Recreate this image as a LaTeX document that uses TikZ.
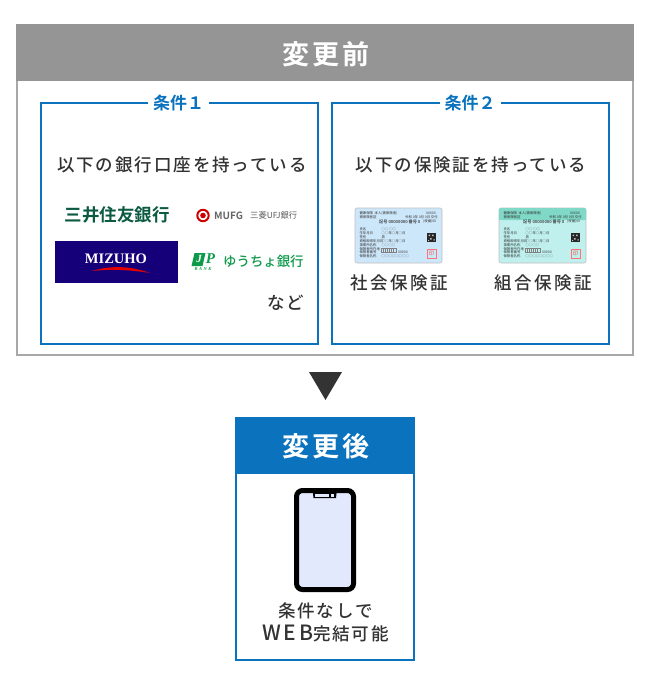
\documentclass[tikz,border=0pt]{standalone}
\usepackage{fontspec}
\setmainfont{Noto Sans CJK JP}
\newfontfamily\jpbold{Noto Sans CJK JP Bold}
\newfontfamily\jpmed{Noto Sans CJK JP Medium}
\newfontfamily\jphead[LetterSpace=11]{Noto Sans CJK JP Bold}
\newfontfamily\jptrack[LetterSpace=11]{Noto Sans CJK JP Medium}
\newfontfamily\jpwide[LetterSpace=15]{Noto Sans CJK JP Medium}
\newfontfamily\jpxwide[LetterSpace=13]{Noto Sans CJK JP Medium}
\newfontfamily\latinb{Liberation Serif}
\definecolor{headgray}{HTML}{959595}
\definecolor{boxgray}{HTML}{A8A8A8}
\definecolor{blueA}{HTML}{0B72BD}
\definecolor{ink}{HTML}{333333}
\definecolor{mitsui}{HTML}{0B5A41}
\definecolor{jpgreen}{HTML}{0E9A4B}
\definecolor{mizuho}{HTML}{15007A}
\definecolor{cardblue}{HTML}{CDE7FA}
\definecolor{cardteal}{HTML}{BFF0EE}
\definecolor{tealhead}{HTML}{80D8C6}
\definecolor{screen}{HTML}{E2E9FD}
\tikzset{
 head/.style={font=\fontsize{27}{27}\selectfont\jphead,text=white,inner sep=0},
 jp/.style={font=\fontsize{17.5}{17.5}\selectfont\jptrack,text=ink,inner sep=0},
 jpw/.style={font=\fontsize{17.5}{17.5}\selectfont\jpwide,text=ink,inner sep=0},
 bluebox/.style={draw=blueA,line width=2pt,fill=white,outer sep=0,inner sep=0,anchor=north west},
 legend/.style={font=\fontsize{17}{17}\selectfont\jpbold,text=blueA,fill=white,inner xsep=5pt,inner ysep=1pt},
 tiny/.style={font=\fontsize{3.4}{3.4}\selectfont,text=black!80,inner sep=0,anchor=west},
 num/.style={font=\fontsize{4.2}{4.2}\selectfont\jpmed,text=black!85,inner sep=0,anchor=west},
}
\newcommand{\idcard}[4]{%
 \begin{scope}[shift={(#1,#2)}]
  \fill[#3,rounded corners=2pt,draw=black!25,line width=.6pt] (0,0) rectangle (87,55);
  #4
  \node[tiny] at (4.3,5.3) {健康保険\ \ 本人(被保険者)};
  \node[tiny] at (4.3,9) {被保険者証};
  \node[tiny] at (71,5.3) {00000};
  \node[tiny] at (50,9) {令和 0年 0月 0日 交付};
  \node[num] at (24,13.5) {記号 00000000 番号 0};
  \node[tiny] at (68,13.5) {(枝番)00};
  \node[tiny] at (4.3,21) {氏名};
  \node[tiny] at (26.5,21) {○○ ○○};
  \node[tiny] at (4.3,25) {生年月日};
  \node[tiny] at (26.5,25) {○○年○月○日};
  \node[tiny] at (4.3,29) {性別};
  \node[tiny] at (26.5,29) {男};
  \node[tiny] at (4.3,33) {資格取得年月日};
  \node[tiny] at (26.5,33) {○○年○月○日};
  \node[tiny] at (4.3,37) {事業所名称};
  \node[tiny] at (26.5,37) {○○○○};
  \node[tiny] at (4.3,41) {保険者所在地};
  \node[tiny] at (4.3,44.7) {保険者番号};
  \node[tiny] at (4.3,48.5) {保険者名称};
  \draw[black!50,line width=.4pt] (26.5,40) rectangle (41,44.5);
  \foreach \vx in {28.5,30.5,...,39.5} \draw[black!50,line width=.3pt] (\vx,40) -- (\vx,44.5);
  \node[tiny] at (43,44) {00000};
  \node[tiny] at (26.5,48.5) {○○○○○○○○};
  \fill[black!85] (72,25) rectangle (80.5,34);
  \fill[white!75!black] (73.5,26.5) rectangle (75,28) (77,26.5) rectangle (78.5,28) (75,30) rectangle (76.5,31.5) (78.5,31) rectangle (79.7,32.5) (73,32) rectangle (74.2,33);
  \draw[red!55!white,line width=.6pt] (72,41) rectangle (81,50);
  \node[font=\fontsize{5.5}{5.5}\selectfont,text=red!70,inner sep=0] at (76.5,45.5) {印};
 \end{scope}}
\begin{document}
\begin{tikzpicture}[x=1pt,y=-1pt]
\useasboundingbox (0,0) rectangle (650,685);
\fill[white] (0,0) rectangle (650,685);
% before panel
\node[draw=boxgray,line width=2pt,fill=white,minimum width=616pt,minimum height=330pt,inner sep=0,outer sep=0,anchor=north west] (outer) at (17,25) {};
\node[fill=headgray,minimum width=618pt,minimum height=57pt,inner sep=0,outer sep=0,anchor=north west] (bhead) at (16,24) {};
\node[head] (btitle) at (326,54) {変更前};
% conditions
\node[bluebox,minimum width=277pt,minimum height=241pt] (c1) at (40.7,103.3) {};
\node[bluebox,minimum width=277pt,minimum height=241pt] (c2) at (331.7,103.3) {};
\node[legend] (l1) at (178.5,103.5) {条件１};
\node[legend] (l2) at (470,103.5) {条件２};
\node[jp] (t1) at (182,165) {以下の銀行口座を持っている};
\node[jp] (t2) at (471,165) {以下の保険証を持っている};
% banks
\node[font=\fontsize{17.5}{17.5}\selectfont\jpbold,text=mitsui,inner sep=0] (smbc) at (117,215) {三井住友銀行};
\fill[white,draw=red!80!black,line width=2pt] (203,215.5) circle (5.7pt);
\fill[red!80!black] (203,215.5) circle (2.8pt);
\node[font=\fontsize{10}{10}\selectfont\jpbold,text=black!60,inner sep=0,anchor=west] (mufg) at (214,215.5) {MUFG};
\node[font=\fontsize{8.3}{8.3}\selectfont,text=black!65,inner sep=0,anchor=west] (mufgj) at (250,215.5) {三菱UFJ銀行};
\node[fill=mizuho,minimum width=123pt,minimum height=42pt,inner sep=0,outer sep=0,anchor=north west] (mz) at (55,240.5) {};
\node[font=\fontsize{14.5}{14.5}\selectfont\latinb\bfseries,text=white,inner sep=0] (mzt) at (116,259) {MIZUHO};
\fill[red!90!black] (92,271) .. controls (108,266) and (128,265) .. (150,273) .. controls (128,269.5) and (110,269) .. (92,271) -- cycle;
\fill[jpgreen] (194.5,253) -- (205.5,253) -- (202.5,266) -- (191.5,266) -- cycle;
\node[font=\fontsize{11}{11}\selectfont\latinb\bfseries\itshape,text=white,inner sep=0] (jpj) at (199,259) {J};
\node[font=\fontsize{15}{15}\selectfont\latinb\bfseries\itshape,text=jpgreen,inner sep=0] (jpp) at (210.5,259) {P};
\node[font=\fontsize{4.5}{4.5}\selectfont\latinb\bfseries\itshape,text=jpgreen,inner sep=0] (jpb) at (203,269.5) {B\,\,A\,\,N\,\,K};
\node[font=\fontsize{13.4}{13.4}\selectfont\jpmed,text=jpgreen,inner sep=0,anchor=west] (yucho) at (223,261.5) {ゆうちょ銀行};
\node[jp] (nado) at (286,303) {など};
% cards
\idcard{355}{208}{cardblue}{}
\idcard{499}{208}{cardteal}{\fill[tealhead,rounded corners=2pt] (0,0) rectangle (87,12);\fill[tealhead] (0,6) rectangle (87,12);}
\node[jpw] (k1) at (399,283) {社会保険証};
\node[jpw] (k2) at (543,283) {組合保険証};
% arrow
\fill[ink] (309,372) -- (342,372) -- (325.5,400) -- cycle;
% after
\node[draw=blueA,line width=2pt,fill=white,minimum width=178.6pt,minimum height=242pt,inner sep=0,outer sep=0,anchor=north west] (after) at (235.7,418) {};
\node[fill=blueA,minimum width=180pt,minimum height=57pt,inner sep=0,outer sep=0,anchor=north west] (ahead) at (235,417) {};
\node[head] (atitle) at (326,446) {変更後};
% phone
\draw[black,fill=screen,line width=5pt,rounded corners=6pt] (296.5,490.5) rectangle (353.5,589.5);
\fill[black] (312.5,489) -- (337,489) -- (336,498) -- (313.5,498) -- cycle;
\fill[screen] (315,494) rectangle (329.3,497);
\fill[screen] (330.7,494) rectangle (334.3,497);
\node[jp] (a1) at (325.5,611) {条件なしで};
\node[jp] (a2) at (325.5,634) {{\fontsize{21}{21}\selectfont\jpxwide WEB}完結可能};
\end{tikzpicture}
\end{document}
